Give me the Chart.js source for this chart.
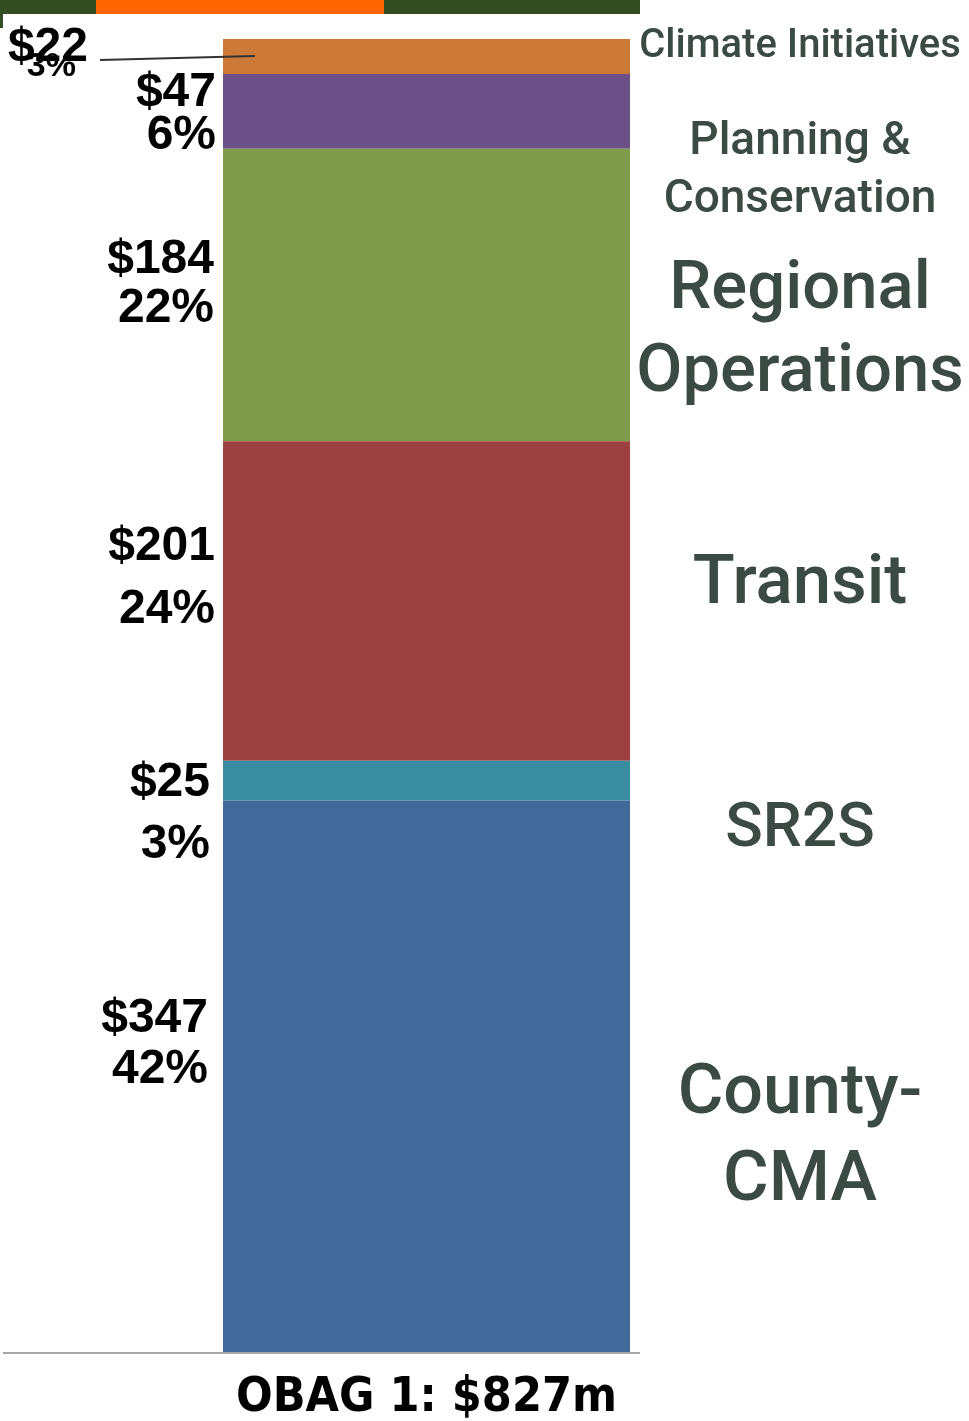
<!DOCTYPE html>
<html lang="en">
<head>
    <meta charset="UTF-8">
    <title>OBAG 1 Program Funding</title>
    <script src="https://cdn.jsdelivr.net/npm/chart.js"></script>
    <style>
        body { margin: 0; background: #fff; }
        canvas { display: block; }
    </style>
</head>
<body>
    <canvas id="obagChart" width="969" height="1421"></canvas>

    <script>
        // Data ($ millions), bottom segment first
        const categories = ['OBAG 1: $827m'];
        const programs = ['County-CMA', 'SR2S', 'Transit', 'Regional Operations', 'Planning & Conservation', 'Climate Initiatives'];
        const programLines = [['County-', 'CMA'], ['SR2S'], ['Transit'], ['Regional', 'Operations'], ['Planning &', 'Conservation'], ['Climate Initiatives']];
        const amounts = [347, 25, 201, 184, 47, 22];
        const shares = ['42%', '3%', '24%', '22%', '6%', '3%'];
        const colors = ['#41699a', '#3a8ca0', '#9d4140', '#809b4a', '#6a5087', '#cd7a38'];

        // where labels sit relative to the middle of each segment
        const leftLabelPos = [
            { x: 208, dy1: -57, dy2: -6, size: 48 },
            { x: 210, dy1: 2, dy2: 64, size: 48 },
            { x: 215, dy1: -54, dy2: 9, size: 48 },
            { x: 214, dy1: -35, dy2: 14, size: 48 },
            { x: 216, dy1: -19, dy2: 24, size: 48 },
            { x: 88, dy1: -9, dy2: 10, size: 48, x2: 76, size2: 34 }
        ];
        const rightLabelPos = [
            { dy: [19, 106], size: 70 },
            { dy: [50], size: 62 },
            { dy: [-15], size: 69 },
            { dy: [-4, 79], size: 67 },
            { dy: [31, 89], size: 46 },
            { dy: [-9], size: 40 }
        ];

        const total = amounts.reduce((a, b) => a + b, 0);

        const segmentLabels = {
            id: 'segmentLabels',
            beforeDraw(chart) {
                const ctx = chart.ctx;
                ctx.save();
                // banner strip along the top
                ctx.fillStyle = '#344d23';
                ctx.fillRect(0, 0, 640, 14);
                ctx.fillRect(0, 14, 3, 14);
                ctx.fillStyle = '#ff6600';
                ctx.fillRect(96, 0, 288, 14);
                ctx.restore();
            },
            afterDatasetsDraw(chart) {
                const ctx = chart.ctx;
                const y = chart.scales.y;
                ctx.save();

                // baseline
                ctx.strokeStyle = '#a6a6a6';
                ctx.lineWidth = 2;
                ctx.beginPath();
                ctx.moveTo(3, chart.chartArea.bottom + 1);
                ctx.lineTo(640, chart.chartArea.bottom + 1);
                ctx.stroke();

                let base = 0;
                amounts.forEach((v, i) => {
                    const mid = y.getPixelForValue(base + v / 2);
                    base += v;

                    // left: amount and share
                    const lp = leftLabelPos[i];
                    ctx.fillStyle = '#000';
                    ctx.textAlign = 'right';
                    ctx.textBaseline = 'middle';
                    ctx.font = 'bold ' + lp.size + 'px "Liberation Sans", Arial, sans-serif';
                    ctx.fillText('$' + v, lp.x, mid + lp.dy1);
                    ctx.font = 'bold ' + (lp.size2 || lp.size) + 'px "Liberation Sans", Arial, sans-serif';
                    ctx.fillText(shares[i], lp.x2 || lp.x, mid + lp.dy2);

                    // right: program name
                    const rp = rightLabelPos[i];
                    ctx.fillStyle = '#3b4a42';
                    ctx.textAlign = 'center';
                    ctx.font = '500 ' + rp.size + 'px Roboto, "Noto Sans", sans-serif';
                    programLines[i].forEach((line, j) => {
                        ctx.fillText(line, 800, mid + rp.dy[j]);
                    });
                });

                // leader line for the small top segment
                ctx.strokeStyle = '#333';
                ctx.lineWidth = 2;
                ctx.beginPath();
                ctx.moveTo(100, 60);
                ctx.lineTo(255, 56);
                ctx.stroke();
                ctx.restore();
            }
        };

        const chart = new Chart(document.getElementById('obagChart'), {
            type: 'bar',
            data: {
                labels: categories,
                datasets: amounts.map((v, i) => ({
                    label: programs[i],
                    data: [v],
                    backgroundColor: colors[i],
                    borderWidth: 0,
                    barPercentage: 0.4805,
                    categoryPercentage: 1
                }))
            },
            options: {
                responsive: false,
                animation: false,
                layout: { padding: { top: 39, left: 3, right: 119, bottom: 0 } },
                plugins: {
                    legend: { display: false },
                    tooltip: { enabled: false }
                },
                scales: {
                    x: {
                        stacked: true,
                        grid: { display: false },
                        border: { display: false },
                        ticks: {
                            color: '#000',
                            padding: 10,
                            font: { family: '"Liberation Sans Narrow", "DejaVu Sans Condensed", sans-serif', size: 48, weight: 'bold' }
                        },
                        afterFit(scale) { scale.height = 69; }
                    },
                    y: {
                        stacked: true,
                        display: false,
                        min: 0,
                        max: total
                    }
                }
            },
            plugins: [segmentLabels]
        });
    </script>
</body>
</html>
